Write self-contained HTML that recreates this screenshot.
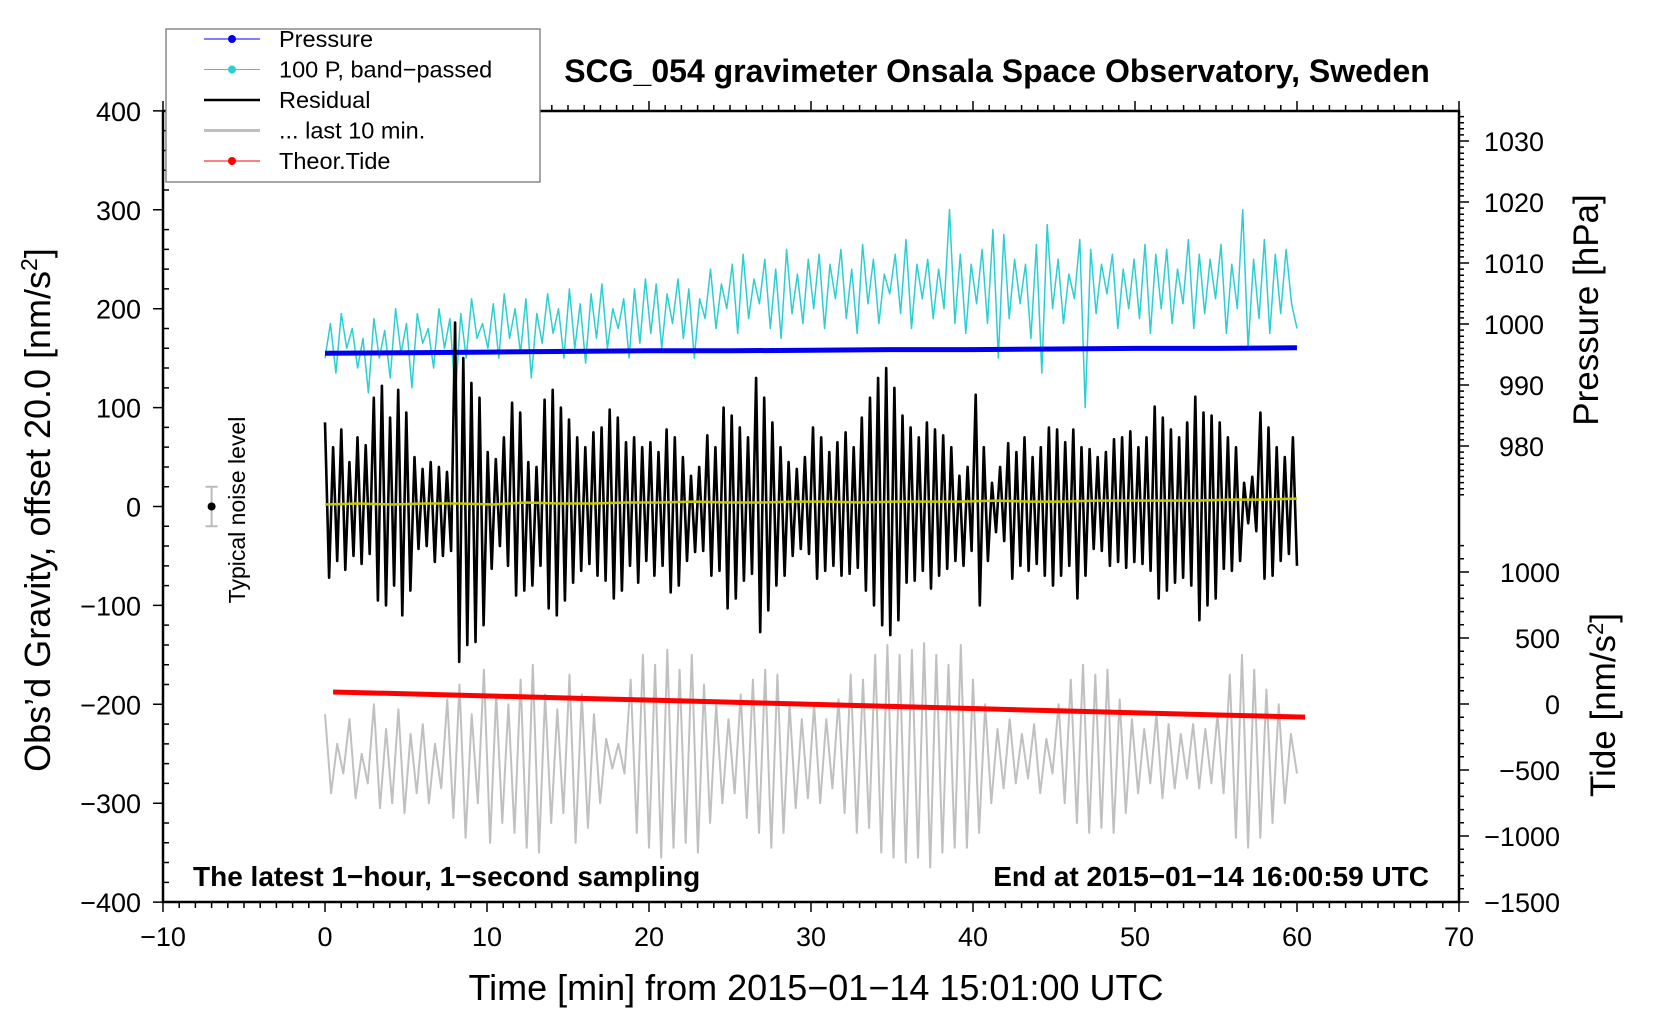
<!DOCTYPE html>
<html><head><meta charset="utf-8"><style>
html,body{margin:0;padding:0;background:#fff}
svg{display:block;font-family:"Liberation Sans",Arial,sans-serif}
</style></head><body>
<svg id="chart" width="1660" height="1020" viewBox="0 0 1660 1020" xmlns="http://www.w3.org/2000/svg">
<rect x="0" y="0" width="1660" height="1020" fill="#fff"/>
<g id="axes"></g>
<g id="series"></g>
<g id="texts"></g>
</svg>
<script>
const xTicks=[-10,0,10,20,30,40,50,60,70];
const gTicks=[400,300,200,100,0,-100,-200,-300,-400];
const pTicks=[980,990,1000,1010,1020,1030];
const tTicks=[1000,500,0,-500,-1000,-1500];
const residual=[85,-72,60,-55,78,-64,45,-50,70,-58,62,-48,110,-95,122,-100,90,-80,118,-110,
95,-85,50,-43,38,-40,45,-56,40,-50,35,-45,186,-157,150,-140,125,-137,110,-120,
55,-63,48,-40,70,-60,105,-90,95,-85,45,-80,40,-60,108,-103,118,-110,100,-95,
88,-77,70,-65,60,-58,75,-70,80,-75,98,-93,90,-85,65,-60,70,-77,60,-55,
65,-70,55,-60,78,-87,70,-80,50,-55,31,-46,40,-45,72,-70,60,-65,100,-103,
92,-93,80,-75,70,-68,130,-127,110,-105,85,-80,60,-70,45,-50,38,-43,50,-48,
80,-73,70,-65,55,-60,65,-70,75,-68,60,-62,90,-85,110,-100,130,-120,140,-130,
120,-115,92,-77,80,-75,70,-65,85,-83,78,-70,72,-63,60,-55,31,-60,40,-45,
113,-100,60,-55,24,-26,40,-35,64,-73,55,-60,70,-65,50,-58,60,-70,80,-80,
78,-70,65,-60,78,-93,60,-70,58,-43,50,-45,55,-60,68,-56,70,-62,76,-56,
60,-58,70,-65,101,-93,90,-85,78,-77,70,-72,85,-80,111,-115,95,-100,92,-93,
85,-63,70,-65,60,-55,24,-17,30,-25,95,-73,80,-70,60,-55,50,-48,70,-60];
const bandPassed=[150,185,135,195,160,180,140,170,115,190,150,178,130,200,155,185,120,195,165,180,140,200,160,190,110,195,150,210,170,185,
160,205,150,215,170,200,155,210,130,195,165,215,175,200,150,220,160,205,145,215,170,225,160,200,180,210,150,220,165,230,
175,225,160,215,185,230,170,220,150,210,190,240,180,225,200,245,175,255,190,230,205,250,180,240,170,260,195,235,185,250,
200,255,180,245,210,260,190,240,175,265,205,250,185,235,215,255,195,270,180,245,210,250,190,240,200,300,185,255,175,245,
205,260,185,280,150,275,190,250,205,245,170,265,135,285,200,250,185,235,210,270,100,260,195,245,215,255,180,240,200,250,
190,265,175,255,200,260,185,240,205,270,180,255,195,250,210,265,175,245,200,300,160,250,190,270,175,255,195,260,205,180];
const last10=[-210,-290,-240,-270,-215,-295,-250,-280,-200,-305,-225,-300,-205,-310,-230,-290,-220,-300,-240,-285,
-195,-315,-180,-335,-210,-300,-165,-340,-190,-320,-200,-330,-175,-345,-160,-350,-190,-320,-205,-310,
-170,-340,-190,-325,-210,-300,-235,-265,-240,-270,-175,-330,-150,-345,-160,-355,-145,-345,-165,-340,
-150,-350,-180,-320,-200,-300,-215,-290,-190,-315,-175,-330,-165,-345,-170,-330,-200,-305,-215,-295,
-200,-300,-215,-285,-195,-310,-170,-330,-175,-325,-150,-350,-140,-355,-150,-360,-145,-355,-138,-365,
-150,-350,-160,-345,-140,-345,-175,-330,-200,-300,-225,-285,-215,-280,-230,-275,-220,-290,-235,-270,
-200,-300,-175,-320,-160,-330,-170,-325,-165,-330,-195,-310,-215,-290,-225,-280,-210,-295,-220,-285,
-230,-275,-220,-285,-225,-280,-210,-290,-170,-335,-150,-345,-165,-335,-185,-320,-200,-300,-230,-270];
const meanLine=[2,3,2,3,3,2,4,3,3,4,4,5,4,4,5,5,4,5,5,5,6,5,5,6,6,6,6,7,7,8];
const pressure=[995.2,995.3,995.4,995.5,995.6,995.6,995.7,995.8,995.8,995.9,996.0,996.0,996.1];
const tide=[91,76,60,44,28,12,-4,-20,-36,-52,-68,-84,-99];

const NS="http://www.w3.org/2000/svg";
const L=163,R=1459,T=111,B=902;
const X=m=>325+m*16.2;
const Y=g=>506.5-g*0.989;
const YP=p=>324-(p-1000)*6.1;
const YT=t=>704-t*0.132;
function mk(tag,attrs,parent,txt){const e=document.createElementNS(NS,tag);for(const k in attrs)e.setAttribute(k,attrs[k]);if(txt!==undefined)e.textContent=txt;parent.appendChild(e);return e;}
const axes=document.getElementById('axes'),ser=document.getElementById('series'),tx=document.getElementById('texts');

let fr=mk('rect',{x:L,y:T,width:R-L,height:B-T,fill:'none',stroke:'#000','stroke-width':2.5},axes);


let tk='';
for(let m=-10;m<=70;m++){const x=X(m);tk+=`M${x} ${B}v${m%10===0?10:6}M${x} ${T}v${m%10===0?-10:-6}`;}
for(let g=-400;g<=400;g+=20){const y=Y(g);tk+=`M${L} ${y}h${g%100===0?-10:6}`;}
for(let p=972;p<=1034;p++){const y=YP(p);tk+=`M${R} ${y}h${p%10===0?10:5}`;}
for(let t=-1500;t<=1200;t+=100){const y=YT(t);tk+=`M${R} ${y}h${t%500===0?10:5}`;}
let tp=mk('path',{d:tk,stroke:'#000','stroke-width':1.5,fill:'none'},axes);



xTicks.forEach(v=>{let e=mk('text',{x:X(v),y:946,'font-size':27,'text-anchor':'middle'},axes,String(v).replace('-','\u2212'));

});
gTicks.forEach(v=>{let e=mk('text',{x:141,y:Y(v)+10,'font-size':27,'text-anchor':'end'},axes,String(v).replace('-','\u2212'));

});
pTicks.forEach(v=>{let e=mk('text',{x:1544,y:YP(v)+10,'font-size':27,'text-anchor':'end'},axes,String(v));

});
tTicks.forEach(v=>{let e=mk('text',{x:1560,y:YT(v)+10,'font-size':27,'text-anchor':'end'},axes,String(v).replace('-','\u2212'));

});

function line(arr,xf,yf,attrs,name){const d=arr.map((v,i)=>(i?'L':'M')+xf(i).toFixed(1)+' '+yf(v).toFixed(1)).join('');
const e=mk('path',Object.assign({d,fill:'none','stroke-linejoin':'round'},attrs),ser);

}
line(last10,i=>X(i*60/(last10.length-1)),Y,{stroke:'#c0c0c0','stroke-width':2},'last-10-min-line');
line(tide,i=>X(0.5+i*5),YT,{stroke:'#f00','stroke-width':5},'theor-tide-line');
line(bandPassed,i=>X(i*60/(bandPassed.length-1)),Y,{stroke:'#2ccfcf','stroke-width':1.5},'band-passed-pressure-line');
line(pressure,i=>X(i*5),YP,{stroke:'#0000f0','stroke-width':5},'pressure-line');
line(residual,i=>X(i*60/(residual.length-1)),Y,{stroke:'#000','stroke-width':2.6},'residual-line');
line(meanLine,i=>X(i*60/(meanLine.length-1)),Y,{stroke:'#c8c800','stroke-width':2.5},'residual-mean-line');

let nb=mk('path',{d:`M${X(-7)} ${Y(20)}V${Y(-20)}M${X(-7)-6} ${Y(20)}h12M${X(-7)-6} ${Y(-20)}h12`,stroke:'#bbb','stroke-width':2,fill:'none'},ser);


let nd=mk('circle',{cx:X(-7),cy:Y(0),r:4,fill:'#000'},ser);



const lg=mk('g',{},tx);


mk('rect',{x:166,y:29,width:374,height:153,fill:'#fff',stroke:'#777','stroke-width':1.3},lg);
const legItems=[['Pressure','#0000f0',1,true],['100 P, band\u2212passed','#2ccfcf',1,true],['Residual','#000',2.5,false],['... last 10 min.','#c0c0c0',3,false],['Theor.Tide','#f00',1,true]];
legItems.forEach((it,i)=>{const y=39+i*30.5;const g=mk('g',{},lg);


mk('line',{x1:204,x2:260,y1:y,y2:y,stroke:it[1],'stroke-width':it[2]},g);
if(it[3])mk('circle',{cx:232,cy:y,r:4,fill:it[1]},g);
mk('text',{x:279,y:y+8,'font-size':23.5},g,it[0]);});
</script>
<svg style="position:absolute;left:0;top:0" width="1660" height="1020">
<text x="997" y="82" font-size="32" font-weight="bold" text-anchor="middle" font-family="Liberation Sans, sans-serif">SCG_054 gravimeter Onsala Space Observatory, Sweden</text>
<text x="816" y="1000" font-size="36" text-anchor="middle" font-family="Liberation Sans, sans-serif">Time [min] from 2015−01−14 15:01:00 UTC</text>
<text transform="translate(50,510) rotate(-90)" font-size="36" text-anchor="middle" font-family="Liberation Sans, sans-serif">Obs’d Gravity, offset 20.0 [nm/s<tspan font-size="23" dy="-13">2</tspan><tspan dy="13">]</tspan></text>
<text transform="translate(1598,310) rotate(-90)" font-size="35" text-anchor="middle" font-family="Liberation Sans, sans-serif">Pressure [hPa]</text>
<text transform="translate(1615,705) rotate(-90)" font-size="35" text-anchor="middle" font-family="Liberation Sans, sans-serif">Tide [nm/s<tspan font-size="22" dy="-12">2</tspan><tspan dy="12">]</tspan></text>
<text transform="translate(245,510) rotate(-90)" font-size="23" text-anchor="middle" font-family="Liberation Sans, sans-serif">Typical noise level</text>
<text x="193" y="886" font-size="28" font-weight="bold" font-family="Liberation Sans, sans-serif">The latest 1−hour, 1−second sampling</text>
<text x="1429" y="886" font-size="28" font-weight="bold" text-anchor="end" font-family="Liberation Sans, sans-serif">End at 2015−01−14 16:00:59 UTC</text>
</svg>
</body></html>
